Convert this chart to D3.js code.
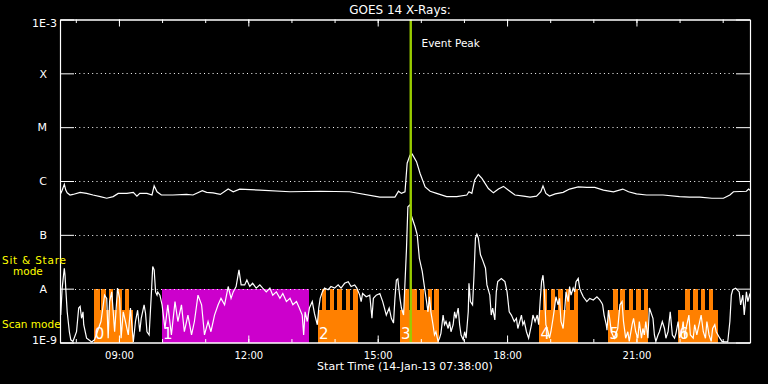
<!DOCTYPE html>
<html>
<head>
<meta charset="utf-8">
<script src="https://cdn.jsdelivr.net/npm/d3@7"></script>
<style>
  html, body { margin: 0; padding: 0; background: #000; }
  svg { display: block; font-family: 'DejaVu Sans', sans-serif; }
</style>
</head>
<body>
<svg id="chart" width="768" height="384"></svg>
<script>
// GOES 14 X-ray flux. Time = minutes after 07:38:00 UT, flux = log10(W/m^2)
const longMinutes = [1, 3, 6, 8, 10, 14, 18, 28, 37, 46, 56, 65, 74, 81, 93, 102, 107, 111, 121, 128,
  131, 135, 141, 157, 176, 185, 198, 204, 213, 223, 234, 241, 250, 278, 320, 362, 403, 445, 466, 471,
  475, 480, 483, 487, 490, 496, 501, 508, 515, 524, 538, 552, 566, 569, 573, 577, 582, 587, 596, 603,
  610, 617, 624, 633, 645, 654, 663, 669, 672, 676, 681, 689, 700, 709, 721, 733, 744, 756, 770, 783,
  791, 802, 816, 839, 862, 876, 890, 907, 923, 932, 937, 955, 958, 960];
const longLogFlux = [-6.23, -6.17, -6.06, -6.17, -6.22, -6.26, -6.25, -6.21, -6.23, -6.26, -6.29, -6.32,
  -6.29, -6.23, -6.23, -6.21, -6.28, -6.23, -6.23, -6.26, -6.09, -6.20, -6.26, -6.26, -6.25, -6.26,
  -6.18, -6.21, -6.22, -6.25, -6.15, -6.20, -6.15, -6.17, -6.20, -6.19, -6.20, -6.30, -6.30, -6.19,
  -6.23, -6.20, -5.67, -5.52, -5.50, -5.64, -5.86, -6.11, -6.19, -6.23, -6.29, -6.29, -6.26, -6.20,
  -6.23, -5.98, -5.88, -5.95, -6.14, -6.22, -6.15, -6.10, -6.17, -6.26, -6.28, -6.30, -6.28, -6.20,
  -6.09, -6.23, -6.28, -6.24, -6.21, -6.15, -6.11, -6.12, -6.12, -6.17, -6.20, -6.15, -6.20, -6.24,
  -6.26, -6.26, -6.29, -6.30, -6.30, -6.32, -6.32, -6.26, -6.20, -6.19, -6.15, -6.17];

const shortMinutes = [1, 3, 6, 7, 8, 10, 13, 15, 18, 23, 26, 28, 30, 32, 33, 37, 40, 44, 48, 57,
  62, 65, 67, 69, 72, 76, 80, 83, 85, 88, 91, 95, 98, 102, 105, 108, 111, 113, 117, 119,
  121, 124, 127, 129, 131, 133, 135, 136, 139, 142, 146, 150, 155, 160, 164, 169, 173, 178, 183, 187,
  192, 197, 201, 206, 210, 215, 220, 224, 229, 234, 238, 241, 245, 249, 252, 257, 260, 264, 268, 273,
  278, 282, 287, 292, 296, 301, 306, 310, 315, 320, 324, 329, 333, 337, 339, 341, 344, 347, 351, 354,
  358, 360, 362, 365, 368, 373, 377, 382, 387, 391, 396, 401, 405, 410, 413, 417, 419, 421, 426, 431,
  434, 436, 440, 445, 449, 454, 458, 461, 464, 466, 468, 470, 473, 475, 478, 482, 484, 487, 489, 494,
  497, 500, 504, 506, 510, 512, 514, 516, 519, 521, 523, 526, 528, 530, 533, 535, 537, 540, 542, 544,
  547, 549, 551, 554, 556, 558, 561, 563, 565, 568, 569, 571, 574, 576, 578, 580, 582, 585, 588, 592,
  594, 598, 600, 602, 605, 607, 609, 614, 619, 622, 625, 628, 632, 635, 637, 642, 644, 646, 649, 652,
  656, 658, 661, 664, 666, 668, 670, 672, 674, 676, 679, 681, 683, 686, 688, 690, 693, 695, 697, 700,
  702, 704, 707, 709, 711, 714, 716, 718, 721, 723, 725, 728, 733, 737, 742, 747, 751, 754, 755, 757,
  760, 761, 763, 765, 767, 771, 776, 779, 782, 784, 787, 790, 792, 796, 798, 801, 804, 806, 809, 811,
  813, 815, 818, 820, 825, 827, 829, 832, 834, 838, 841, 843, 846, 849, 852, 855, 857, 860, 862, 865,
  867, 869, 871, 875, 877, 881, 883, 886, 890, 892, 895, 898, 900, 903, 906, 908, 911, 913, 918, 921,
  925, 929, 932, 934, 936, 940, 945, 947, 950, 952, 955, 957, 960];
const shortLogFlux = [-8.49, -7.99, -7.62, -7.75, -7.99, -8.43, -8.80, -8.95, -8.98, -8.80, -8.36, -8.33, -8.55, -8.43, -8.67, -8.92, -8.95, -8.99, -8.95, -8.61,
  -8.12, -8.18, -8.92, -8.24, -8.06, -8.80, -7.99, -8.18, -8.92, -8.43, -8.61, -8.86, -8.36, -8.99, -8.61, -8.40, -8.80, -8.55, -8.30, -8.46,
  -8.80, -8.86, -8.12, -7.59, -7.65, -8.06, -8.12, -8.06, -8.12, -8.30, -8.74, -8.30, -8.86, -8.24, -8.61, -8.30, -8.80, -8.49, -8.86, -8.61,
  -8.12, -8.30, -8.86, -8.61, -8.80, -8.49, -8.30, -8.18, -8.30, -7.96, -8.18, -8.06, -7.96, -7.65, -7.93, -7.93, -7.84, -7.96, -7.90, -7.99,
  -7.93, -7.99, -8.06, -7.99, -8.12, -8.06, -8.18, -8.09, -8.24, -8.18, -8.30, -8.24, -8.36, -8.49, -8.86, -8.43, -8.61, -8.36, -8.24, -8.46,
  -8.67, -8.36, -8.18, -8.06, -7.99, -8.02, -7.96, -7.99, -7.93, -7.99, -7.90, -7.87, -7.96, -7.93, -7.99, -8.12, -8.24, -8.09, -8.15, -8.12,
  -8.55, -8.18, -8.12, -8.09, -8.24, -8.49, -8.36, -8.55, -8.64, -8.18, -7.84, -7.82, -8.18, -8.36, -8.49, -7.28, -6.48, -6.44, -6.65, -6.85,
  -7.00, -7.44, -7.68, -7.87, -8.24, -8.43, -8.15, -8.43, -8.67, -8.86, -8.80, -8.98, -8.92, -8.83, -8.49, -8.67, -8.61, -8.74, -8.61, -8.80,
  -8.67, -8.43, -8.55, -8.36, -8.67, -8.86, -8.95, -8.80, -8.92, -8.43, -7.90, -8.24, -8.30, -7.75, -7.06, -6.99, -7.06, -7.37, -7.47, -7.62,
  -7.93, -8.12, -8.49, -8.36, -8.58, -8.06, -7.87, -7.81, -7.87, -8.06, -8.43, -8.49, -8.61, -8.55, -8.74, -8.49, -8.67, -8.61, -8.80, -8.92,
  -8.67, -8.49, -8.61, -8.49, -8.67, -8.24, -7.87, -7.75, -8.06, -8.67, -8.80, -8.92, -8.80, -8.55, -8.36, -8.15, -8.30, -8.18, -8.61, -8.74,
  -8.43, -8.06, -8.24, -7.96, -8.12, -7.99, -8.06, -7.87, -7.81, -7.99, -8.06, -8.15, -8.24, -8.18, -8.21, -8.15, -8.21, -8.27, -8.30, -8.49,
  -8.67, -8.77, -8.40, -8.58, -8.80, -8.92, -8.74, -8.30, -8.24, -8.61, -8.92, -8.80, -8.98, -8.67, -8.55, -8.80, -8.92, -8.61, -8.92, -8.74,
  -8.86, -8.61, -8.92, -8.36, -8.55, -8.86, -8.98, -8.86, -8.80, -8.61, -8.74, -8.92, -8.80, -8.43, -8.86, -8.92, -8.83, -8.61, -8.92, -8.80,
  -8.61, -8.92, -8.74, -8.49, -8.86, -8.92, -8.67, -8.86, -8.61, -8.49, -8.80, -8.92, -8.61, -8.86, -8.98, -8.74, -8.67, -8.80, -8.92, -8.98,
  -8.99, -8.99, -8.61, -8.12, -8.02, -7.99, -8.06, -8.30, -8.12, -8.49, -8.06, -8.24, -8.09];

// Axis ticks
const yTickValues = [1e-9, 1e-8, 1e-7, 1e-6, 1e-5, 1e-4, 1e-3];
const yTickLabels = ['1E-9', 'A', 'B', 'C', 'M', 'X', '1E-3'];
const gridValues = [1e-8, 1e-7, 1e-6, 1e-5, 1e-4];
const hourTicks = [22, 82, 142, 202, 262, 322, 382, 442, 502, 562, 622, 682, 742, 802, 862, 922];
const labelTicks = [82, 262, 442, 622, 802];
const labelTickText = ['09:00', '12:00', '15:00', '18:00', '21:00'];

// Observing modes (minutes after start)
const stareIds = ['1'];
const stareStart = [142];
const stareEnd = [346];
const scanIds = ['0', '2', '3', '4', '5', '6'];
const scanStart = [47, 359, 473, 667, 763, 860];
const scanEnd = [102, 414, 527, 721, 818, 915];
const scanTeeth = [
  [[47, 55], [57, 64], [68, 74], [79, 86], [90, 96]],
  [[364, 370], [376, 381], [386, 392], [398, 403], [407, 414]],
  [[479, 485], [488, 496], [501, 506], [512, 517], [521, 527]],
  [[672, 678], [683, 689], [693, 700], [704, 709], [715, 721]],
  [[769, 776], [779, 786], [791, 797], [801, 808], [812, 818]],
  [[870, 877], [881, 888], [892, 898], [903, 909]],
];
const scanBaseTop = 4e-9;
const modeTop = 1e-8;
const eventPeak = 488;

const font = "'DejaVu Sans', sans-serif";
const svg = d3.select('#chart');

svg.append('rect').attr('width', 768).attr('height', 384).attr('fill', '#000');

// Scales
const x = d3.scaleLinear().domain([0, 960]).range([60, 750]);
const y = d3.scaleLog().domain([1e-9, 1e-3]).range([342.5, 19.5]);
const yBottom = y(1e-9);
const yTop = y(1e-3);

// Sit & stare blocks
const modes = svg.append('g').attr('shape-rendering', 'crispEdges');
modes.selectAll('rect.stare')
  .data(stareStart)
  .join('rect')
  .attr('class', 'stare')
  .attr('x', (d) => x(d))
  .attr('width', (d, i) => x(stareEnd[i]) - x(d))
  .attr('y', y(modeTop))
  .attr('height', yBottom - y(modeTop))
  .attr('fill', '#cc00cc');

// Scan blocks: a low base plus one tooth per scan
modes.selectAll('rect.scan')
  .data(scanStart)
  .join('rect')
  .attr('class', 'scan')
  .attr('x', (d) => x(d))
  .attr('width', (d, i) => x(scanEnd[i]) - x(d))
  .attr('y', y(scanBaseTop))
  .attr('height', yBottom - y(scanBaseTop))
  .attr('fill', '#ff8000');

modes.selectAll('rect.tooth')
  .data(scanTeeth.flat())
  .join('rect')
  .attr('class', 'tooth')
  .attr('x', (d) => x(d[0]))
  .attr('width', (d) => x(d[1]) - x(d[0]))
  .attr('y', y(modeTop))
  .attr('height', y(scanBaseTop) - y(modeTop) + 0.5)
  .attr('fill', '#ff8000');

// Dotted grid at the flare class levels
svg.append('g')
  .selectAll('line')
  .data(gridValues)
  .join('line')
  .attr('x1', 75)
  .attr('x2', 736)
  .attr('y1', (d) => Math.round(y(d)) + 0.5)
  .attr('y2', (d) => Math.round(y(d)) + 0.5)
  .attr('stroke', '#fff')
  .attr('stroke-width', 1)
  .attr('stroke-dasharray', '1,3.3');

// Flux curves
const line = d3.line()
  .x((d) => x(d[0]))
  .y((d) => y(Math.pow(10, d[1])));

svg.append('path')
  .datum(d3.zip(shortMinutes, shortLogFlux))
  .attr('d', line)
  .attr('fill', 'none')
  .attr('stroke', '#fff')
  .attr('stroke-width', 1.2);

svg.append('path')
  .datum(d3.zip(longMinutes, longLogFlux))
  .attr('d', line)
  .attr('fill', 'none')
  .attr('stroke', '#fff')
  .attr('stroke-width', 1.2);

// Mode labels
svg.append('g')
  .selectAll('text')
  .data(scanIds.map((id, i) => [id, scanStart[i]]).concat(stareIds.map((id, i) => [id, stareStart[i]])))
  .join('text')
  .attr('x', (d) => x(d[1]) + 1)
  .attr('y', 338.5)
  .attr('fill', '#fff')
  .attr('font-family', font)
  .attr('font-size', 15)
  .text((d) => d[0]);

// Event peak marker
svg.append('line')
  .attr('x1', x(eventPeak))
  .attr('x2', x(eventPeak))
  .attr('y1', yTop)
  .attr('y2', yBottom)
  .attr('stroke', '#99cc00')
  .attr('stroke-width', 2.4);

svg.append('text')
  .attr('x', 421.5)
  .attr('y', 46.5)
  .attr('fill', '#fff')
  .attr('font-family', font)
  .attr('font-size', 10.5)
  .text('Event Peak');

// Axes
function styleAxis(g) {
  g.attr('color', '#fff').attr('font-family', font);
  g.select('.domain').attr('stroke-width', 1.2);
}

svg.append('g')
  .attr('transform', `translate(0,${yBottom})`)
  .call(d3.axisBottom(x).tickValues(hourTicks).tickSize(-3.5).tickSizeOuter(0).tickFormat(''))
  .call(styleAxis);

svg.append('g')
  .attr('transform', `translate(0,${yBottom})`)
  .call(d3.axisBottom(x).tickValues(labelTicks).tickSize(-7).tickSizeOuter(0).tickPadding(9)
    .tickFormat((d, i) => labelTickText[i]))
  .call(styleAxis)
  .attr('font-size', 10);

svg.append('g')
  .attr('transform', `translate(0,${yTop})`)
  .call(d3.axisTop(x).tickValues(hourTicks).tickSize(-3.5).tickSizeOuter(0).tickFormat(''))
  .call(styleAxis);

svg.append('g')
  .attr('transform', `translate(0,${yTop})`)
  .call(d3.axisTop(x).tickValues(labelTicks).tickSize(-7).tickSizeOuter(0).tickFormat(''))
  .call(styleAxis);

const yLeft = svg.append('g')
  .attr('transform', 'translate(60,0)')
  .call(d3.axisLeft(y).tickValues(yTickValues).tickSize(-14).tickSizeOuter(0).tickPadding(3)
    .tickFormat((d, i) => yTickLabels[i]))
  .call(styleAxis)
  .attr('font-size', 11);

// class letters sit a little further left; end labels tuck inside the frame
yLeft.selectAll('.tick text')
  .attr('x', (d, i) => (yTickLabels[i].length === 1 ? -13 : -3))
  .attr('dy', (d, i) => (i === 0 ? '0.05em' : i === yTickLabels.length - 1 ? '0.68em' : '0.34em'));

svg.append('g')
  .attr('transform', 'translate(750,0)')
  .call(d3.axisRight(y).tickValues(yTickValues).tickSize(-14).tickSizeOuter(0).tickFormat(''))
  .call(styleAxis);

// Titles
svg.append('text')
  .attr('x', 400)
  .attr('y', 14)
  .attr('text-anchor', 'middle')
  .attr('fill', '#fff')
  .attr('font-family', font)
  .attr('font-size', 12)
  .text('GOES 14 X-Rays:');

svg.append('text')
  .attr('x', 405)
  .attr('y', 370)
  .attr('text-anchor', 'middle')
  .attr('fill', '#fff')
  .attr('font-family', font)
  .attr('font-size', 11)
  .text('Start Time (14-Jan-13 07:38:00)');

// Mode legend on the left
const legend = svg.append('g')
  .attr('fill', '#ffff00')
  .attr('font-family', font)
  .attr('font-size', 10.5);

legend.append('text').attr('x', 2).attr('y', 263.5).attr('textLength', 64).text('Sit & Stare');
legend.append('text').attr('x', 13).attr('y', 275).text('mode');
legend.append('text').attr('x', 2).attr('y', 327.5).text('Scan mode');
</script>
</body>
</html>
